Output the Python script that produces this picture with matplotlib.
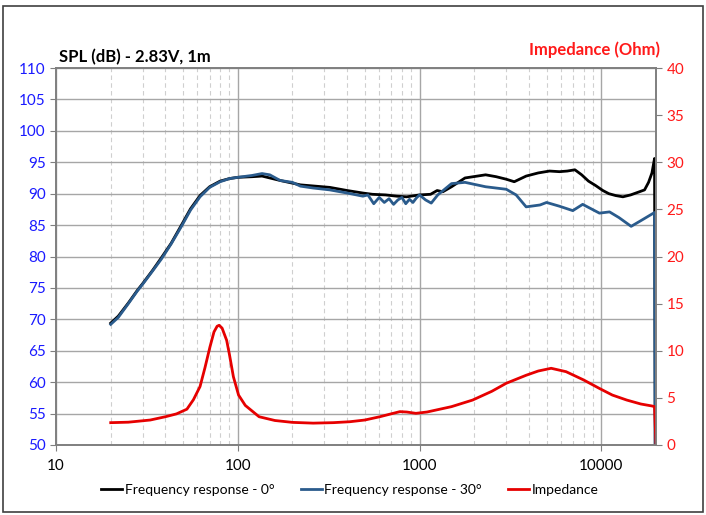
import numpy as np
import matplotlib
matplotlib.use("Agg")
import matplotlib.pyplot as plt
from matplotlib.ticker import FixedLocator, NullFormatter
from matplotlib.patches import Rectangle

plt.rcParams['font.family'] = ['Lato', 'DejaVu Sans']

# frequency response, 0 deg
f0 = [20, 22, 25, 28, 30, 34, 38, 43, 49, 55, 62, 70, 80, 90, 100, 120, 136, 171, 221, 321,
      400, 488, 550, 650, 750, 850, 1000, 1150, 1250, 1343, 1500, 1780, 2310, 2640, 3000, 3320,
      3860, 4500, 5190, 5890, 6500, 7160, 7800, 8500, 9300, 10200, 11000, 12000, 13150, 14500,
      16200, 17300, 18200, 19000, 19630, 20000]
spl0 = [69.4, 70.5, 72.6, 74.6, 75.7, 77.8, 79.8, 82.1, 85.0, 87.6, 89.7, 91.1, 92.0, 92.4, 92.6,
        92.7, 92.8, 92.1, 91.4, 91.0, 90.5, 90.1, 89.9, 89.8, 89.6, 89.5, 89.8, 89.9, 90.5, 90.3,
        91.1, 92.5, 93.0, 92.7, 92.3, 91.9, 92.8, 93.3, 93.6, 93.5, 93.6, 93.8, 93.0, 92.0, 91.3,
        90.5, 90.0, 89.7, 89.5, 89.8, 90.3, 90.6, 91.8, 93.3, 95.6, 0]

# frequency response, 30 deg
f30 = [20, 22, 25, 28, 30, 34, 38, 43, 49, 55, 62, 70, 80, 90, 100, 120, 136, 150, 171, 200,
       221, 260, 321, 400, 488, 520, 560, 600, 640, 680, 720, 760, 800, 840, 880, 920, 960, 1000,
       1080, 1160, 1260, 1500, 1780, 2310, 3000, 3400, 3860, 4600, 5000, 5890, 6970, 7900, 9770,
       11100, 12500, 14600, 16500, 19630, 20000]
spl30 = [69.2, 70.3, 72.5, 74.5, 75.6, 77.7, 79.6, 82.0, 84.8, 87.4, 89.5, 91.0, 91.9, 92.4, 92.6,
         92.9, 93.2, 93.0, 92.1, 91.8, 91.2, 90.9, 90.6, 90.1, 89.6, 89.8, 88.4, 89.4, 88.6, 89.2,
         88.3, 89.0, 89.4, 88.4, 89.1, 88.6, 89.3, 89.8, 89.0, 88.5, 89.8, 91.6, 91.8, 91.1, 90.7,
         89.8, 87.9, 88.2, 88.6, 88.0, 87.3, 88.3, 86.9, 87.1, 86.2, 84.8, 85.7, 87.0, 0]

# impedance
fz = [20, 25, 33, 40, 46, 52.5, 57, 62, 66, 70.3, 74, 77, 79, 82, 86.9, 90, 94.6, 101, 110, 131,
      160, 200, 260, 335, 414, 500, 605, 680, 780, 850, 955, 1100, 1500, 1960, 2500, 3000, 3860,
      4500, 5300, 6400, 8000, 9770, 11500, 13800, 16500, 19000, 19630, 20000]
imp = [2.37, 2.42, 2.65, 3.0, 3.3, 3.8, 4.8, 6.2, 8.2, 10.4, 12.0, 12.6, 12.7, 12.4, 11.1, 9.6,
       7.25, 5.3, 4.2, 3.0, 2.6, 2.4, 2.32, 2.37, 2.47, 2.65, 3.0, 3.25, 3.54, 3.5, 3.36, 3.5,
       4.07, 4.77, 5.7, 6.55, 7.4, 7.85, 8.14, 7.78, 6.9, 6.0, 5.3, 4.77, 4.35, 4.14, 4.07, 0]

fig = plt.figure(figsize=(7.06, 5.15), dpi=100)
ax = fig.add_axes([56 / 706, 1 - 445 / 515, 600 / 706, 377 / 515])
ax2 = ax.twinx()

grid_c = '#a6a6a6'
ax.set_xscale('log')
ax.set_xlim(10, 20000)
ax.set_ylim(50, 110)
ax.set_yticks(np.arange(50, 111, 5))
ax.xaxis.set_major_locator(FixedLocator([10, 100, 1000, 10000]))
ax.set_xticklabels(['10', '100', '1000', '10000'])
minor = [m * d for d in [10, 100, 1000, 10000] for m in range(2, 10) if m * d < 20000]
ax.xaxis.set_minor_locator(FixedLocator(minor))
ax.xaxis.set_minor_formatter(NullFormatter())
ax.grid(True, which='major', axis='both', color=grid_c, lw=1.0)
ax.grid(True, which='minor', axis='x', color='#cfcfcf', lw=0.8, ls=(0, (4, 3)))
ax.tick_params(axis='x', which='minor', length=0)
ax.tick_params(axis='x', which='major', length=4, color='#7f7f7f', labelsize=11, pad=6)
ax.tick_params(axis='y', length=4, color='#7f7f7f', labelsize=11, labelcolor='#1a1aff')
ax.set_axisbelow(True)

ax2.set_ylim(0, 40)
ax2.set_yticks(np.arange(0, 41, 5))
ax2.tick_params(axis='y', length=4, color='#7f7f7f', labelsize=11, labelcolor='#ff1a1a')

for a in (ax, ax2):
    for s in a.spines.values():
        s.set_color('#7f7f7f')
        s.set_linewidth(1.2)

ax.plot(f0, spl0, color='black', lw=2.0, label='Frequency response - 0°')
ax.plot(f30, spl30, color='#2a5b8c', lw=2.0, label='Frequency response - 30°')
ax2.plot(fz, imp, color='#e60000', lw=2.0, label='Impedance')

h1, l1 = ax.get_legend_handles_labels()
h2, l2 = ax2.get_legend_handles_labels()
fig.legend(h1 + h2, l1 + l2, loc='center', bbox_to_anchor=(350 / 706, 1 - 490 / 515), ncol=3,
           frameon=False, fontsize=10, handlelength=1.5, handletextpad=0.2, columnspacing=1.9)

fig.text(59 / 706, 1 - 57 / 515, 'SPL (dB) - 2.83V, 1m', fontsize=12, fontweight='bold',
         ha='left', va='center')
fig.text(660 / 706, 1 - 50 / 515, 'Impedance (Ohm)', fontsize=12, fontweight='bold',
         color='#ff1a1a', ha='right', va='center')

fig.patches.append(Rectangle((3 / 706, 3 / 515), 700 / 706, 506 / 515, transform=fig.transFigure,
                             fill=False, edgecolor='#404040', lw=1.2))

fig.savefig('out.png', dpi=100)
